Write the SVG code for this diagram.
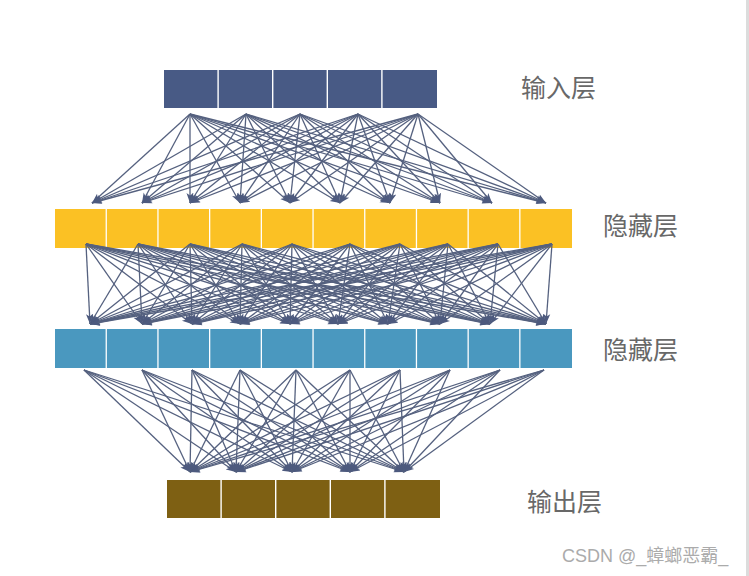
<svg xmlns="http://www.w3.org/2000/svg" width="749" height="576" viewBox="0 0 749 576">
<style>
.lbl{font-family:"Noto Sans CJK SC","Liberation Sans",sans-serif;font-size:25px;fill:#686868}
.wm{font-family:"Liberation Sans","Noto Sans CJK SC",sans-serif;font-size:18px;fill:#ababab}
.in rect{fill:#485a85}
.h1 rect{fill:#fbc124}
.h2 rect{fill:#4a98bf}
.out rect{fill:#7e6013}
#connectors line{stroke:#55617f;stroke-width:1.3;marker-end:url(#ah)}
</style>
<defs>
<marker id="ah" markerUnits="userSpaceOnUse" markerWidth="11" markerHeight="9" refX="10" refY="4.5" orient="auto">
<path d="M0,1 L10,4.5 L0,8 L2.5,4.5 z" fill="#4d5a7e"/>
</marker>
</defs>
<rect x="0" y="0" width="749" height="576" fill="#ffffff"/>
<rect x="746" y="0" width="3" height="576" fill="#dcdcdc"/>

<g id="input-layer" class="in">
<g id="in1"><rect x="164" y="70" width="53.4" height="38"/></g>
<g id="in2"><rect x="218.8" y="70" width="53.2" height="38"/></g>
<g id="in3"><rect x="273.4" y="70" width="53.2" height="38"/></g>
<g id="in4"><rect x="328" y="70" width="53.2" height="38"/></g>
<g id="in5"><rect x="382.6" y="70" width="54.4" height="38"/></g>
</g>
<g id="hidden1-layer" class="h1">
<g id="h1n1"><rect x="55" y="209" width="50.6" height="39"/></g>
<g id="h1n2"><rect x="106.9" y="209" width="50.4" height="39"/></g>
<g id="h1n3"><rect x="158.6" y="209" width="50.4" height="39"/></g>
<g id="h1n4"><rect x="210.3" y="209" width="50.4" height="39"/></g>
<g id="h1n5"><rect x="262" y="209" width="50.4" height="39"/></g>
<g id="h1n6"><rect x="313.7" y="209" width="50.4" height="39"/></g>
<g id="h1n7"><rect x="365.4" y="209" width="50.4" height="39"/></g>
<g id="h1n8"><rect x="417.1" y="209" width="50.4" height="39"/></g>
<g id="h1n9"><rect x="468.8" y="209" width="50.4" height="39"/></g>
<g id="h1n10"><rect x="520.5" y="209" width="51.5" height="39"/></g>
</g>
<g id="hidden2-layer" class="h2">
<g id="h2n1"><rect x="55" y="329" width="50.6" height="39"/></g>
<g id="h2n2"><rect x="106.9" y="329" width="50.4" height="39"/></g>
<g id="h2n3"><rect x="158.6" y="329" width="50.4" height="39"/></g>
<g id="h2n4"><rect x="210.3" y="329" width="50.4" height="39"/></g>
<g id="h2n5"><rect x="262" y="329" width="50.4" height="39"/></g>
<g id="h2n6"><rect x="313.7" y="329" width="50.4" height="39"/></g>
<g id="h2n7"><rect x="365.4" y="329" width="50.4" height="39"/></g>
<g id="h2n8"><rect x="417.1" y="329" width="50.4" height="39"/></g>
<g id="h2n9"><rect x="468.8" y="329" width="50.4" height="39"/></g>
<g id="h2n10"><rect x="520.5" y="329" width="51.5" height="39"/></g>
</g>
<g id="output-layer" class="out">
<g id="out1"><rect x="167" y="480" width="53.4" height="38"/></g>
<g id="out2"><rect x="221.8" y="480" width="53.2" height="38"/></g>
<g id="out3"><rect x="276.4" y="480" width="53.2" height="38"/></g>
<g id="out4"><rect x="331" y="480" width="53.2" height="38"/></g>
<g id="out5"><rect x="385.6" y="480" width="54.4" height="38"/></g>
</g>

<g id="connectors">
<line x1="190" y1="114" x2="92" y2="203"/><line x1="190" y1="114" x2="142" y2="203"/><line x1="190" y1="114" x2="190" y2="203"/><line x1="190" y1="114" x2="240" y2="203"/><line x1="190" y1="114" x2="290" y2="203"/><line x1="190" y1="114" x2="340" y2="203"/><line x1="190" y1="114" x2="390" y2="203"/><line x1="190" y1="114" x2="440" y2="203"/><line x1="190" y1="114" x2="492" y2="203"/><line x1="190" y1="114" x2="546" y2="203"/>
<line x1="246" y1="114" x2="92" y2="203"/><line x1="246" y1="114" x2="142" y2="203"/><line x1="246" y1="114" x2="190" y2="203"/><line x1="246" y1="114" x2="240" y2="203"/><line x1="246" y1="114" x2="290" y2="203"/><line x1="246" y1="114" x2="340" y2="203"/><line x1="246" y1="114" x2="390" y2="203"/><line x1="246" y1="114" x2="440" y2="203"/><line x1="246" y1="114" x2="492" y2="203"/><line x1="246" y1="114" x2="546" y2="203"/>
<line x1="300" y1="114" x2="92" y2="203"/><line x1="300" y1="114" x2="142" y2="203"/><line x1="300" y1="114" x2="190" y2="203"/><line x1="300" y1="114" x2="240" y2="203"/><line x1="300" y1="114" x2="290" y2="203"/><line x1="300" y1="114" x2="340" y2="203"/><line x1="300" y1="114" x2="390" y2="203"/><line x1="300" y1="114" x2="440" y2="203"/><line x1="300" y1="114" x2="492" y2="203"/><line x1="300" y1="114" x2="546" y2="203"/>
<line x1="358" y1="114" x2="92" y2="203"/><line x1="358" y1="114" x2="142" y2="203"/><line x1="358" y1="114" x2="190" y2="203"/><line x1="358" y1="114" x2="240" y2="203"/><line x1="358" y1="114" x2="290" y2="203"/><line x1="358" y1="114" x2="340" y2="203"/><line x1="358" y1="114" x2="390" y2="203"/><line x1="358" y1="114" x2="440" y2="203"/><line x1="358" y1="114" x2="492" y2="203"/><line x1="358" y1="114" x2="546" y2="203"/>
<line x1="418" y1="114" x2="92" y2="203"/><line x1="418" y1="114" x2="142" y2="203"/><line x1="418" y1="114" x2="190" y2="203"/><line x1="418" y1="114" x2="240" y2="203"/><line x1="418" y1="114" x2="290" y2="203"/><line x1="418" y1="114" x2="340" y2="203"/><line x1="418" y1="114" x2="390" y2="203"/><line x1="418" y1="114" x2="440" y2="203"/><line x1="418" y1="114" x2="492" y2="203"/><line x1="418" y1="114" x2="546" y2="203"/>

<line x1="86" y1="244" x2="90" y2="324"/><line x1="86" y1="244" x2="142" y2="324"/><line x1="86" y1="244" x2="192" y2="324"/><line x1="86" y1="244" x2="240" y2="324"/><line x1="86" y1="244" x2="290" y2="324"/><line x1="86" y1="244" x2="338" y2="324"/><line x1="86" y1="244" x2="388" y2="324"/><line x1="86" y1="244" x2="440" y2="324"/><line x1="86" y1="244" x2="490" y2="324"/><line x1="86" y1="244" x2="546" y2="324"/>
<line x1="138" y1="244" x2="90" y2="324"/><line x1="138" y1="244" x2="142" y2="324"/><line x1="138" y1="244" x2="192" y2="324"/><line x1="138" y1="244" x2="240" y2="324"/><line x1="138" y1="244" x2="290" y2="324"/><line x1="138" y1="244" x2="338" y2="324"/><line x1="138" y1="244" x2="388" y2="324"/><line x1="138" y1="244" x2="440" y2="324"/><line x1="138" y1="244" x2="490" y2="324"/><line x1="138" y1="244" x2="546" y2="324"/>
<line x1="190" y1="244" x2="90" y2="324"/><line x1="190" y1="244" x2="142" y2="324"/><line x1="190" y1="244" x2="192" y2="324"/><line x1="190" y1="244" x2="240" y2="324"/><line x1="190" y1="244" x2="290" y2="324"/><line x1="190" y1="244" x2="338" y2="324"/><line x1="190" y1="244" x2="388" y2="324"/><line x1="190" y1="244" x2="440" y2="324"/><line x1="190" y1="244" x2="490" y2="324"/><line x1="190" y1="244" x2="546" y2="324"/>
<line x1="242" y1="244" x2="90" y2="324"/><line x1="242" y1="244" x2="142" y2="324"/><line x1="242" y1="244" x2="192" y2="324"/><line x1="242" y1="244" x2="240" y2="324"/><line x1="242" y1="244" x2="290" y2="324"/><line x1="242" y1="244" x2="338" y2="324"/><line x1="242" y1="244" x2="388" y2="324"/><line x1="242" y1="244" x2="440" y2="324"/><line x1="242" y1="244" x2="490" y2="324"/><line x1="242" y1="244" x2="546" y2="324"/>
<line x1="292" y1="244" x2="90" y2="324"/><line x1="292" y1="244" x2="142" y2="324"/><line x1="292" y1="244" x2="192" y2="324"/><line x1="292" y1="244" x2="240" y2="324"/><line x1="292" y1="244" x2="290" y2="324"/><line x1="292" y1="244" x2="338" y2="324"/><line x1="292" y1="244" x2="388" y2="324"/><line x1="292" y1="244" x2="440" y2="324"/><line x1="292" y1="244" x2="490" y2="324"/><line x1="292" y1="244" x2="546" y2="324"/>
<line x1="350" y1="244" x2="90" y2="324"/><line x1="350" y1="244" x2="142" y2="324"/><line x1="350" y1="244" x2="192" y2="324"/><line x1="350" y1="244" x2="240" y2="324"/><line x1="350" y1="244" x2="290" y2="324"/><line x1="350" y1="244" x2="338" y2="324"/><line x1="350" y1="244" x2="388" y2="324"/><line x1="350" y1="244" x2="440" y2="324"/><line x1="350" y1="244" x2="490" y2="324"/><line x1="350" y1="244" x2="546" y2="324"/>
<line x1="400" y1="244" x2="90" y2="324"/><line x1="400" y1="244" x2="142" y2="324"/><line x1="400" y1="244" x2="192" y2="324"/><line x1="400" y1="244" x2="240" y2="324"/><line x1="400" y1="244" x2="290" y2="324"/><line x1="400" y1="244" x2="338" y2="324"/><line x1="400" y1="244" x2="388" y2="324"/><line x1="400" y1="244" x2="440" y2="324"/><line x1="400" y1="244" x2="490" y2="324"/><line x1="400" y1="244" x2="546" y2="324"/>
<line x1="448" y1="244" x2="90" y2="324"/><line x1="448" y1="244" x2="142" y2="324"/><line x1="448" y1="244" x2="192" y2="324"/><line x1="448" y1="244" x2="240" y2="324"/><line x1="448" y1="244" x2="290" y2="324"/><line x1="448" y1="244" x2="338" y2="324"/><line x1="448" y1="244" x2="388" y2="324"/><line x1="448" y1="244" x2="440" y2="324"/><line x1="448" y1="244" x2="490" y2="324"/><line x1="448" y1="244" x2="546" y2="324"/>
<line x1="498" y1="244" x2="90" y2="324"/><line x1="498" y1="244" x2="142" y2="324"/><line x1="498" y1="244" x2="192" y2="324"/><line x1="498" y1="244" x2="240" y2="324"/><line x1="498" y1="244" x2="290" y2="324"/><line x1="498" y1="244" x2="338" y2="324"/><line x1="498" y1="244" x2="388" y2="324"/><line x1="498" y1="244" x2="440" y2="324"/><line x1="498" y1="244" x2="490" y2="324"/><line x1="498" y1="244" x2="546" y2="324"/>
<line x1="552" y1="244" x2="90" y2="324"/><line x1="552" y1="244" x2="142" y2="324"/><line x1="552" y1="244" x2="192" y2="324"/><line x1="552" y1="244" x2="240" y2="324"/><line x1="552" y1="244" x2="290" y2="324"/><line x1="552" y1="244" x2="338" y2="324"/><line x1="552" y1="244" x2="388" y2="324"/><line x1="552" y1="244" x2="440" y2="324"/><line x1="552" y1="244" x2="490" y2="324"/><line x1="552" y1="244" x2="546" y2="324"/>

<line x1="84" y1="370" x2="190" y2="472"/><line x1="84" y1="370" x2="236" y2="472"/><line x1="84" y1="370" x2="292" y2="472"/><line x1="84" y1="370" x2="350" y2="472"/><line x1="84" y1="370" x2="404" y2="472"/>
<line x1="142" y1="370" x2="190" y2="472"/><line x1="142" y1="370" x2="236" y2="472"/><line x1="142" y1="370" x2="292" y2="472"/><line x1="142" y1="370" x2="350" y2="472"/><line x1="142" y1="370" x2="404" y2="472"/>
<line x1="192" y1="370" x2="190" y2="472"/><line x1="192" y1="370" x2="236" y2="472"/><line x1="192" y1="370" x2="292" y2="472"/><line x1="192" y1="370" x2="350" y2="472"/><line x1="192" y1="370" x2="404" y2="472"/>
<line x1="240" y1="370" x2="190" y2="472"/><line x1="240" y1="370" x2="236" y2="472"/><line x1="240" y1="370" x2="292" y2="472"/><line x1="240" y1="370" x2="350" y2="472"/><line x1="240" y1="370" x2="404" y2="472"/>
<line x1="296" y1="370" x2="190" y2="472"/><line x1="296" y1="370" x2="236" y2="472"/><line x1="296" y1="370" x2="292" y2="472"/><line x1="296" y1="370" x2="350" y2="472"/><line x1="296" y1="370" x2="404" y2="472"/>
<line x1="350" y1="370" x2="190" y2="472"/><line x1="350" y1="370" x2="236" y2="472"/><line x1="350" y1="370" x2="292" y2="472"/><line x1="350" y1="370" x2="350" y2="472"/><line x1="350" y1="370" x2="404" y2="472"/>
<line x1="400" y1="370" x2="190" y2="472"/><line x1="400" y1="370" x2="236" y2="472"/><line x1="400" y1="370" x2="292" y2="472"/><line x1="400" y1="370" x2="350" y2="472"/><line x1="400" y1="370" x2="404" y2="472"/>
<line x1="450" y1="370" x2="190" y2="472"/><line x1="450" y1="370" x2="236" y2="472"/><line x1="450" y1="370" x2="292" y2="472"/><line x1="450" y1="370" x2="350" y2="472"/><line x1="450" y1="370" x2="404" y2="472"/>
<line x1="500" y1="370" x2="190" y2="472"/><line x1="500" y1="370" x2="236" y2="472"/><line x1="500" y1="370" x2="292" y2="472"/><line x1="500" y1="370" x2="350" y2="472"/><line x1="500" y1="370" x2="404" y2="472"/>
<line x1="544" y1="370" x2="190" y2="472"/><line x1="544" y1="370" x2="236" y2="472"/><line x1="544" y1="370" x2="292" y2="472"/><line x1="544" y1="370" x2="350" y2="472"/><line x1="544" y1="370" x2="404" y2="472"/>
</g>

<g id="labels">
<text class="lbl" x="521" y="97">输入层</text>
<text class="lbl" x="603" y="235">隐藏层</text>
<text class="lbl" x="603" y="359">隐藏层</text>
<text class="lbl" x="527" y="511">输出层</text>
<text class="wm" x="562" y="562">CSDN @_蟑螂恶霸_</text>
</g>
</svg>
